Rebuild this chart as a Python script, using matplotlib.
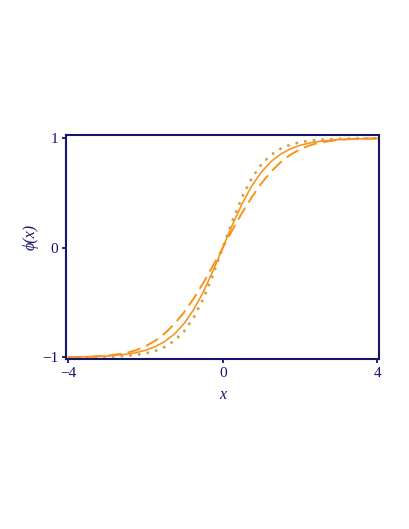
import matplotlib
matplotlib.use("Agg")
import matplotlib.pyplot as plt

# values
x_vals = [-4.0, -3.5, -3.0, -2.5, -2.25, -2.0, -1.75, -1.5, -1.25, -1.0, -0.75, -0.5, -0.25,
          0.0, 0.25, 0.5, 0.75, 1.0, 1.25, 1.5, 1.75, 2.0, 2.25, 2.5, 3.0, 3.5, 4.0]
solid_half = [0.0, 0.2094, 0.4011, 0.5632, 0.6911, 0.7866, 0.8551, 0.9029, 0.9354, 0.9573,
              0.9719, 0.9879, 0.9948, 0.9978]
dashed_half = [0.0, 0.1625, 0.3183, 0.4616, 0.5879, 0.6950, 0.7814, 0.8488, 0.8990, 0.9350,
               0.9597, 0.9865, 0.9961, 0.9990]
dotted_half = [0.0, 0.2449, 0.4621, 0.6351, 0.7616, 0.8483, 0.9051, 0.9414, 0.9640, 0.9780,
               0.9866, 0.9951, 0.9982, 0.9993]

def full(half):
    return [-v for v in half[:0:-1]] + half

solid_y = full(solid_half)
dashed_y = full(dashed_half)
dotted_y = full(dotted_half)

x_ticks = [-4, 0, 4]
y_ticks = [-1, 0, 1]

navy = "#15156b"
orange = "#f8931a"
tan = "#c9a452"

plt.rcParams["font.family"] = ["Liberation Serif", "DejaVu Serif"]

fig = plt.figure(figsize=(4.09, 5.29), dpi=100)
ax = fig.add_axes([0.1614, 0.3214, 0.7653, 0.4234])

ax.plot(x_vals, dotted_y, color=tan, lw=1.9, linestyle=(0, (1, 2.3)))
ax.plot(x_vals, dashed_y, color=orange, lw=1.4, linestyle=(0, (7, 3.2)))
ax.plot(x_vals, solid_y, color=orange, lw=1.15)

ax.set_xlim(-4.06, 4.05)
ax.set_ylim(-1.015, 1.03)
ax.set_xticks(x_ticks)
ax.set_yticks(y_ticks)
ax.set_xticklabels(["\u22124", "0", "4"])
ax.set_yticklabels(["\u22121", "0", "1"])

for s in ax.spines.values():
    s.set_color(navy)
    s.set_linewidth(1.5)
ax.tick_params(colors=navy, labelcolor=navy, length=3.2, width=1.3, labelsize=11, pad=2.5)

ax.set_xlabel("x", style="italic", color=navy, fontsize=11.5)
ax.xaxis.set_label_coords(0.5, -0.125)
ax.set_ylabel("\u03d5(x)", style="italic", color=navy, fontsize=11.5)
ax.yaxis.set_label_coords(-0.088, 0.545)

fig.savefig("out.png", dpi=100)
